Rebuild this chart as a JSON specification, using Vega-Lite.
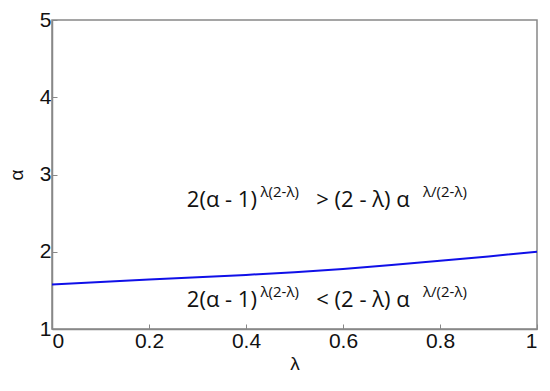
{
  "$schema": "https://vega.github.io/schema/vega-lite/v6.json",
  "autosize": "none",
  "width": 485,
  "height": 309,
  "padding": {"left": 52, "top": 20, "right": 13, "bottom": 62},
  "background": "white",
  "config": {
    "view": {"stroke": "#888888", "strokeWidth": 1.5},
    "axis": {
      "grid": false,
      "domainColor": "#888888",
      "domainWidth": 1.5,
      "tickColor": "#888888",
      "tickWidth": 1,
      "tickSize": -5,
      "labelFont": "Liberation Sans",
      "labelFontSize": 21,
      "labelColor": "#111111",
      "titleFont": "Liberation Sans",
      "titleFontSize": 19,
      "titleFontWeight": "normal",
      "titleColor": "#111111"
    }
  },
  "datasets": {
    "curve": [
      {"lam": 0.0, "alpha": 1.577},
      {"lam": 0.1, "alpha": 1.608},
      {"lam": 0.2, "alpha": 1.64},
      {"lam": 0.3, "alpha": 1.671},
      {"lam": 0.4, "alpha": 1.7},
      {"lam": 0.5, "alpha": 1.735},
      {"lam": 0.6, "alpha": 1.778},
      {"lam": 0.7, "alpha": 1.828},
      {"lam": 0.8, "alpha": 1.882},
      {"lam": 0.9, "alpha": 1.94},
      {"lam": 1.0, "alpha": 2.0}
    ],
    "labels": [
      {"lam": 0.278, "alpha": 2.574, "t": "2(α - 1)", "role": "base"},
      {"lam": 0.43, "alpha": 2.703, "t": "λ(2-λ)", "role": "sup"},
      {"lam": 0.545, "alpha": 2.574, "t": "> (2 - λ) α", "role": "base"},
      {"lam": 0.765, "alpha": 2.703, "t": "λ/(2-λ)", "role": "sup"},
      {"lam": 0.278, "alpha": 1.284, "t": "2(α - 1)", "role": "base"},
      {"lam": 0.43, "alpha": 1.413, "t": "λ(2-λ)", "role": "sup"},
      {"lam": 0.545, "alpha": 1.284, "t": "< (2 - λ) α", "role": "base"},
      {"lam": 0.765, "alpha": 1.413, "t": "λ/(2-λ)", "role": "sup"}
    ]
  },
  "layer": [
    {
      "data": {"name": "curve"},
      "mark": {"type": "line", "color": "#1010e8", "strokeWidth": 2},
      "encoding": {
        "x": {
          "field": "lam", "type": "quantitative", "title": "λ",
          "scale": {"domain": [0, 1], "nice": false},
          "axis": {"values": [0, 0.2, 0.4, 0.6, 0.8, 1], "labelPadding": 6, "titlePadding": 3,
                   "labelExpr": "datum.value == 0 ? '0' : datum.value == 1 ? '1' : format(datum.value, '.1f')"}
        },
        "y": {
          "field": "alpha", "type": "quantitative", "title": "α",
          "scale": {"domain": [1, 5], "nice": false},
          "axis": {"values": [1, 2, 3, 4, 5], "format": "d", "labelPadding": 6, "titlePadding": 13, "titleAngle": -90}
        }
      }
    },
    {
      "data": {"name": "labels"},
      "transform": [{"filter": "datum.role == 'base'"}],
      "mark": {"type": "text", "align": "left", "baseline": "alphabetic", "font": "Open Sans", "fontSize": 22, "color": "#111111"},
      "encoding": {
        "x": {"field": "lam", "type": "quantitative"},
        "y": {"field": "alpha", "type": "quantitative"},
        "text": {"field": "t"}
      }
    },
    {
      "data": {"name": "labels"},
      "transform": [{"filter": "datum.role == 'sup'"}],
      "mark": {"type": "text", "align": "left", "baseline": "alphabetic", "font": "Open Sans", "fontSize": 15, "color": "#111111"},
      "encoding": {
        "x": {"field": "lam", "type": "quantitative"},
        "y": {"field": "alpha", "type": "quantitative"},
        "text": {"field": "t"}
      }
    }
  ]
}
